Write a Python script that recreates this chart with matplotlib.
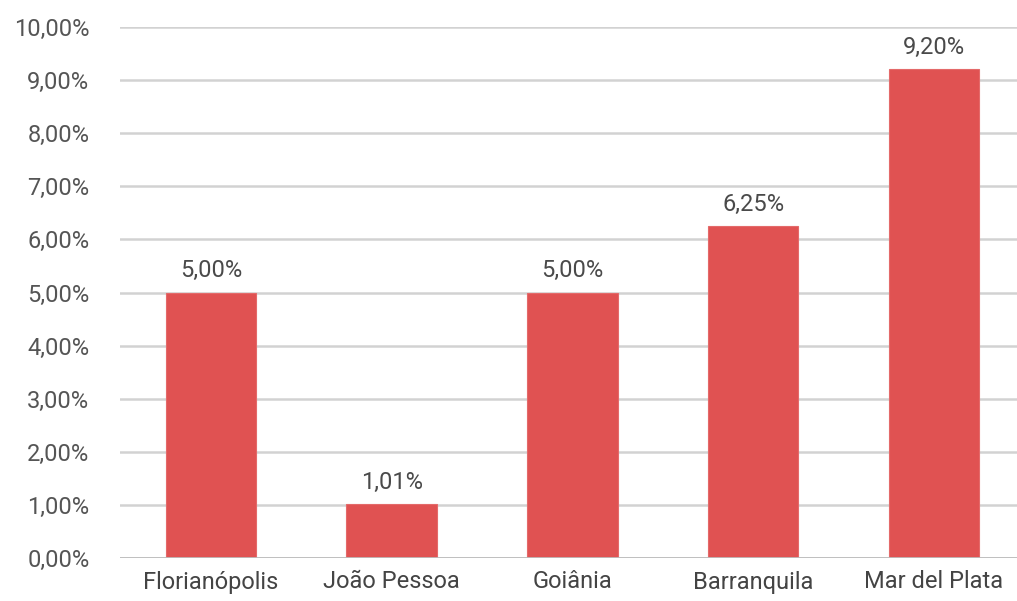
import matplotlib
matplotlib.use("Agg")
import matplotlib.pyplot as plt

categories = ["Florianópolis", "João Pessoa", "Goiânia", "Barranquila", "Mar del Plata"]
values = [5.00, 1.01, 5.00, 6.25, 9.20]
yticks = [0, 1, 2, 3, 4, 5, 6, 7, 8, 9, 10]

plt.rcParams['font.family'] = ['Roboto', 'DejaVu Sans']

W, H = 1017, 601
fig = plt.figure(figsize=(W / 100, H / 100), dpi=100)
ax = fig.add_axes([120 / W, 43 / H, (W - 120) / W, (558 - 27) / H])

x = list(range(len(categories)))
ax.bar(x, values, width=0.5, color="#e05252", edgecolor="#e46a6a", linewidth=0.8, zorder=3)
for xi, v in zip(x, values):
    ax.text(xi, v + 0.2, f"{v:.2f}%".replace(".", ","), ha="center", va="bottom",
            fontsize=17, color="#4a4a4a")

ax.set_ylim(0, 10)
ax.set_xlim(-0.503, 4.46)
ax.set_yticks(yticks)
ax.set_yticklabels([f"{t:.2f}%".replace(".", ",") for t in yticks], fontsize=17, color="#555555")
ax.set_xticks(x)
ax.set_xticklabels(categories, fontsize=17, color="#444444")
ax.tick_params(axis="y", length=0, pad=22)
ax.tick_params(axis="x", length=0, pad=9)
ax.grid(axis="y", color="#d2d2d2", linewidth=1.8, zorder=0)
for s in ax.spines.values():
    s.set_visible(False)
ax.axhline(0, color="#bdbdbd", linewidth=2, zorder=4)

fig.savefig("out.png", dpi=100)
